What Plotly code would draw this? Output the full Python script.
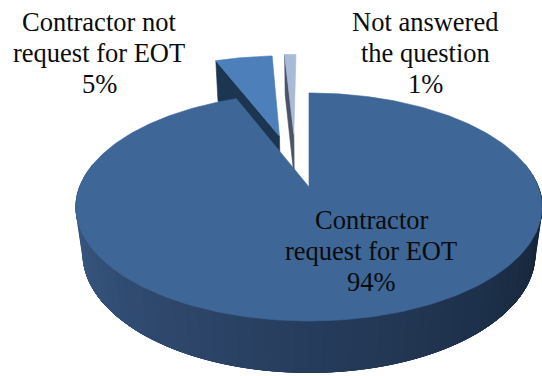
import math
import plotly.graph_objects as go

# Slice data, in clockwise order from twelve o'clock
categories = ["Contractor request for EOT", "Contractor not request for EOT", "Not answered the question"]
shares = [94, 5, 1]
label_lines = [
    ["Contractor", "request for EOT", "94%"],
    ["Contractor not", "request for EOT", "5%"],
    ["Not answered", "the question", "1%"],
]
label_centres = [(371, 220), (99, 22), (425, 22)]
LINE_STEP = 31

# Slice offsets from the pie centre, in radius units (right, away from viewer)
offsets = [(0.0, 0.0), (-0.14, 0.50), (-0.072, 0.52)]
top_colours = ["#3E6798", "#4D7FBB", "#A9B9D8"]
cut_colours = [None, "#1C3550", "#4A5468"]
wall_left = (62, 96, 140)
wall_mid = (41, 64, 98)
wall_right = (22, 38, 58)

# Projection of the tilted disc onto the page
CX, CY = 309.0, 187.0
SCALE_X, SCALE_Y = 229.4, 110.5
PERSPECTIVE = 0.1754
DEPTH_FALL = 0.03
THICKNESS = 48.0


def project(x, y, depth=0.0):
    w = 1 + PERSPECTIVE * y + DEPTH_FALL * depth
    return CX + SCALE_X * x / w, CY + (-SCALE_Y * y + THICKNESS * depth) / w


def arc(start, end, off, depth=0.0, n=120):
    pts = []
    for i in range(n + 1):
        a = math.radians(start + (end - start) * i / n)
        pts.append(project(off[0] + math.sin(a), off[1] + math.cos(a), depth))
    return pts


def lerp(t):
    if t < 0.5:
        a, b, u = wall_left, wall_mid, t * 2
    else:
        a, b, u = wall_mid, wall_right, (t - 0.5) * 2
    return "rgb(%d,%d,%d)" % tuple(round(a[i] + (b[i] - a[i]) * u) for i in range(3))


def polygon(fig, pts, colour):
    fig.add_trace(go.Scatter(
        x=[p[0] for p in pts] + [pts[0][0]],
        y=[p[1] for p in pts] + [pts[0][1]],
        mode="lines", fill="toself", fillcolor=colour,
        line=dict(color=colour, width=0.6), hoverinfo="skip", showlegend=False,
    ))


fig = go.Figure()

# Slice angles come straight from the shares
total = sum(shares)
angles, running = [], 0.0
for s in shares:
    angles.append((running, running + 360.0 * s / total))
    running += 360.0 * s / total

# Back slices first: the small ones sit behind the big one
for idx in (2, 1):
    start, end = angles[idx]
    off = offsets[idx]
    a = math.radians(start)
    rim = (off[0] + math.sin(a), off[1] + math.cos(a))
    polygon(fig, [project(*off), project(*rim), project(*rim, 1), project(*off, 1)], cut_colours[idx])
    polygon(fig, [project(*off)] + arc(start, end, off), top_colours[idx])

# Front wall of the large slice, shaded in narrow strips from left to right
STRIPS = 60
for i in range(STRIPS):
    a0 = 90 + (270 - 90) * (STRIPS - i - 1) / STRIPS - 12
    a1 = 90 + (270 - 90) * (STRIPS - i) / STRIPS + 12
    upper = arc(a0, a1, offsets[0], 0.0, 8)
    lower = arc(a0, a1, offsets[0], 1.0, 8)
    polygon(fig, upper + lower[::-1], lerp(i / (STRIPS - 1)))

start, end = angles[0]
polygon(fig, [project(*offsets[0])] + arc(start, end, offsets[0], 0.0, 360), top_colours[0])

# Labels, one text item per line so the line pitch stays fixed
for lines, (lx, ly) in zip(label_lines, label_centres):
    for j, line in enumerate(lines):
        fig.add_annotation(x=lx, y=ly + j * LINE_STEP, text=line, showarrow=False,
                           font=dict(family="Liberation Serif", size=26.5, color="#0b0b0b"),
                           xanchor="center", yanchor="middle")

fig.update_layout(
    width=542, height=376, margin=dict(l=0, r=0, t=0, b=0),
    paper_bgcolor="white", plot_bgcolor="white", showlegend=False,
    xaxis=dict(range=[0, 542], visible=False, fixedrange=True),
    yaxis=dict(range=[376, 0], visible=False, fixedrange=True),
)
fig.write_html("out.html", config={"displayModeBar": False})
